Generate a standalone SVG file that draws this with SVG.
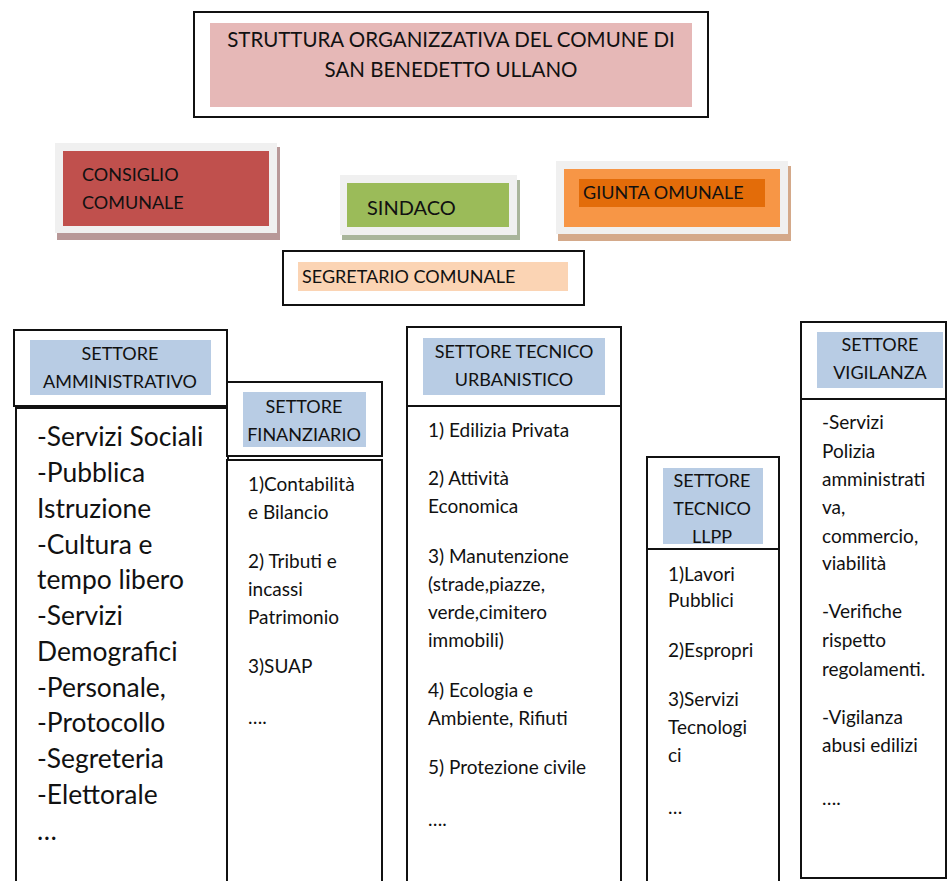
<svg xmlns="http://www.w3.org/2000/svg" width="947" height="881" viewBox="0 0 947 881">
<style>
text{font-family:Lato,"Liberation Sans",sans-serif;fill:#111;}
.frame{fill:#fff;stroke:#111;stroke-width:2;}
.hdr{fill:#B8CCE4;}
.ht{font-size:18px;text-anchor:middle;}
.bt{font-size:19px;}
.big{font-size:26.4px;}
.gray{fill:#F0F0F0;}
</style>
<rect width="947" height="881" fill="#fff"/>
<g id="title">
<rect class="frame" x="194" y="12" width="514" height="105"/>
<rect x="210" y="23" width="482" height="84" fill="#E6B8B7"/>
<text x="451" y="47" font-size="20.5" text-anchor="middle">STRUTTURA ORGANIZZATIVA DEL COMUNE DI</text>
<text x="451" y="77" font-size="20.5" text-anchor="middle">SAN BENEDETTO ULLANO</text>
</g>
<g id="consiglio">
<rect x="57" y="147" width="223" height="93" fill="#B89898"/>
<rect class="gray" x="55" y="143" width="222" height="90"/>
<rect x="63" y="151" width="206" height="75" fill="#C0504D"/>
<text x="82" y="181" font-size="18">CONSIGLIO</text>
<text x="82" y="209" font-size="18">COMUNALE</text>
</g>
<g id="sindaco">
<rect x="342" y="180" width="178" height="60" fill="#A9B59B"/>
<rect class="gray" x="340" y="175" width="177" height="60"/>
<rect x="347" y="183" width="162" height="44" fill="#9BBB59"/>
<text x="367" y="215" font-size="20">SINDACO</text>
</g>
<g id="giunta">
<rect x="558" y="166" width="233" height="75" fill="#D4A98A"/>
<rect class="gray" x="556" y="161" width="232" height="73"/>
<rect x="564" y="169" width="216" height="58" fill="#F79646"/>
<rect x="579" y="179" width="186" height="28" fill="#E36C09"/>
<text x="583" y="199" font-size="18">GIUNTA OMUNALE</text>
</g>
<g id="segretario">
<rect class="frame" x="283" y="251" width="301" height="54"/>
<rect x="298" y="262" width="270" height="29" fill="#FBD4B4"/>
<text x="302" y="283" font-size="18">SEGRETARIO COMUNALE</text>
</g>
<g id="amministrativo">
<rect class="frame" x="16" y="408" width="212" height="480"/>
<rect class="frame" x="14" y="330" width="213" height="76"/>
<rect class="hdr" x="30" y="340" width="181" height="55"/>
<text class="ht" x="120" y="360">SETTORE</text>
<text class="ht" x="120" y="388">AMMINISTRATIVO</text>
<g class="big">
<text x="37" y="446">-Servizi Sociali</text>
<text x="37" y="482">-Pubblica</text>
<text x="37" y="518">Istruzione</text>
<text x="37" y="554">-Cultura e</text>
<text x="37" y="589">tempo libero</text>
<text x="37" y="625">-Servizi</text>
<text x="37" y="661">Demografici</text>
<text x="37" y="697">-Personale,</text>
<text x="37" y="732">-Protocollo</text>
<text x="37" y="768">-Segreteria</text>
<text x="37" y="804">-Elettorale</text>
<text x="37" y="840">…</text>
</g>
</g>
<g id="finanziario">
<rect class="frame" x="227" y="382" width="155" height="74"/>
<rect class="hdr" x="243" y="392" width="123" height="55"/>
<text class="ht" x="304" y="413">SETTORE</text>
<text class="ht" x="304" y="441">FINANZIARIO</text>
<rect class="frame" x="227" y="460" width="155" height="430"/>
<g class="bt">
<text x="248" y="491">1)Contabilità</text>
<text x="248" y="519">e Bilancio</text>
<text x="248" y="568">2) Tributi e</text>
<text x="248" y="596">incassi</text>
<text x="248" y="624">Patrimonio</text>
<text x="248" y="673">3)SUAP</text>
<text x="248" y="724">….</text>
</g>
</g>
<g id="urbanistico">
<rect class="frame" x="407" y="327" width="214" height="560"/>
<line x1="407" y1="406" x2="621" y2="406" stroke="#111" stroke-width="2"/>
<rect class="hdr" x="423" y="338" width="182" height="57"/>
<text class="ht" x="514" y="358">SETTORE TECNICO</text>
<text class="ht" x="514" y="386">URBANISTICO</text>
<g class="bt">
<text x="428" y="437">1) Edilizia Privata</text>
<text x="428" y="485">2) Attività</text>
<text x="428" y="513">Economica</text>
<text x="428" y="563">3) Manutenzione</text>
<text x="428" y="591">(strade,piazze,</text>
<text x="428" y="619">verde,cimitero</text>
<text x="428" y="647">immobili)</text>
<text x="428" y="697">4) Ecologia e</text>
<text x="428" y="725">Ambiente, Rifiuti</text>
<text x="428" y="774">5) Protezione civile</text>
<text x="428" y="826">….</text>
</g>
</g>
<g id="llpp">
<rect class="frame" x="647" y="457" width="132" height="430"/>
<rect class="hdr" x="663" y="468" width="100" height="76"/>
<text class="ht" x="712" y="487">SETTORE</text>
<text class="ht" x="712" y="515">TECNICO</text>
<text class="ht" x="712" y="543">LLPP</text>
<rect x="648" y="550" width="130" height="6" fill="#fff"/>
<line x1="647" y1="549" x2="779" y2="549" stroke="#111" stroke-width="2"/>
<g class="bt">
<text x="668" y="581">1)Lavori</text>
<text x="668" y="607">Pubblici</text>
<text x="668" y="657">2)Espropri</text>
<text x="668" y="706">3)Servizi</text>
<text x="668" y="734">Tecnologi</text>
<text x="668" y="762">ci</text>
<text x="668" y="814">…</text>
</g>
</g>
<g id="vigilanza">
<rect class="frame" x="801" y="322" width="145" height="556"/>
<line x1="801" y1="399" x2="946" y2="399" stroke="#111" stroke-width="2"/>
<rect class="hdr" x="817" y="332" width="126" height="56"/>
<text class="ht" x="880" y="351">SETTORE</text>
<text class="ht" x="880" y="379">VIGILANZA</text>
<g class="bt">
<text x="822" y="429">-Servizi</text>
<text x="822" y="458">Polizia</text>
<text x="822" y="486">amministrati</text>
<text x="822" y="514">va,</text>
<text x="822" y="543">commercio,</text>
<text x="822" y="570">viabilità</text>
<text x="822" y="618">-Verifiche</text>
<text x="822" y="647">rispetto</text>
<text x="822" y="676">regolamenti.</text>
<text x="822" y="724">-Vigilanza</text>
<text x="822" y="752">abusi edilizi</text>
<text x="822" y="805">….</text>
</g>
</g>
<g id="connectors"></g>
</svg>
